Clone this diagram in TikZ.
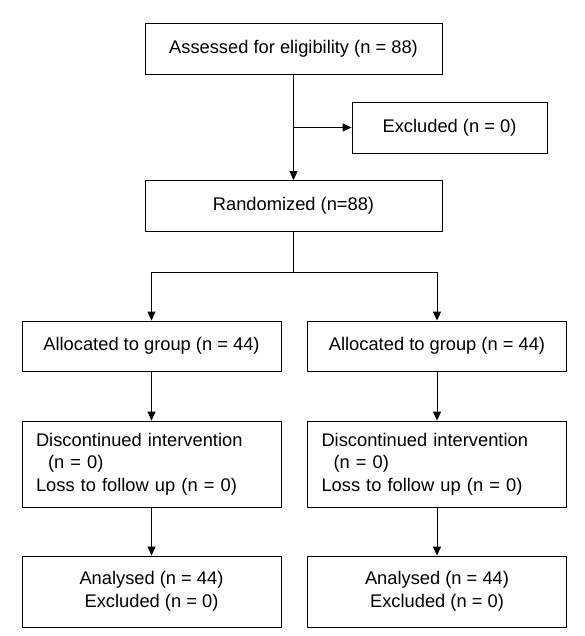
\documentclass[tikz,border=0pt]{standalone}
\usepackage{fontspec}
\setmainfont{Liberation Sans}
\usetikzlibrary{arrows.meta,positioning}
\tikzset{
  box/.style={draw=black,line width=0.9pt,fill=white,inner sep=0pt,align=center,
    font=\fontsize{18.3}{22.5}\selectfont},
  lbox/.style={box,inner xsep=14pt,text width=231pt,align=left},
  arr/.style={line width=0.9pt,-{Triangle[length=9pt,width=8pt]}},
  ln/.style={line width=0.9pt}
}
\begin{document}
\begin{tikzpicture}[x=1pt,y=-1pt]
\useasboundingbox (0,0) rectangle (585,636);
\node[box,minimum width=297pt,minimum height=51pt] (A) at (293.5,48.5) {Assessed for eligibility (n = 88)};
\node[box,minimum width=195pt,minimum height=51pt] (E) at (449.5,127.5) {Excluded (n = 0)};
\node[box,minimum width=297pt,minimum height=51pt] (R) at (293.5,206) {Randomized (n=88)};
\node[box,minimum width=259pt,minimum height=50pt] (AL) at (151.5,346) {Allocated to group (n = 44)};
\node[box,minimum width=259pt,minimum height=50pt] (AR) at (437,346) {Allocated to group (n = 44)};
\node[lbox,minimum height=86pt] (DL) at (151.5,464) {Discontinued intervention\\\hspace*{12pt}(n = 0)\\Loss to follow up (n = 0)};
\node[lbox,minimum height=86pt] (DR) at (437,464) {Discontinued intervention\\\hspace*{12pt}(n = 0)\\Loss to follow up (n = 0)};
\node[box,minimum width=259pt,minimum height=71pt] (NL) at (151.5,591.5) {Analysed (n = 44)\\Excluded (n = 0)};
\node[box,minimum width=259pt,minimum height=71pt] (NR) at (437,591.5) {Analysed (n = 44)\\Excluded (n = 0)};
\coordinate (split) at (293.5,272);
\draw[arr] (A.south) -- (R.north);
\draw[arr] (A.south |- E.west) -- (E.west);
\draw[ln] (R.south) -- (split);
\draw[arr] (split) -| (AL.north);
\draw[arr] (split) -| (AR.north);
\draw[arr] (AL.south) -- (DL.north);
\draw[arr] (AR.south) -- (DR.north);
\draw[arr] (DL.south) -- (NL.north);
\draw[arr] (DR.south) -- (NR.north);
\end{tikzpicture}
\end{document}
